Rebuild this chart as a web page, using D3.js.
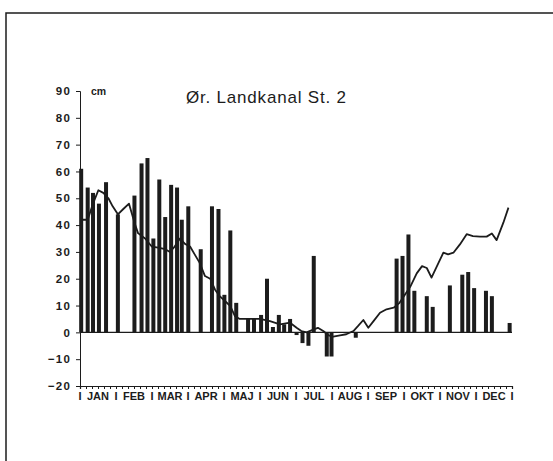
<!DOCTYPE html>
<html>
<head>
<meta charset="utf-8">
<script src="https://cdn.jsdelivr.net/npm/d3@7"></script>
<style>
  body{margin:0;background:#fff;}
  svg{display:block;font-family:"Liberation Sans",Arial,sans-serif;}
</style>
</head>
<body>
<svg id="chart" width="553" height="461"></svg>
<script>
// vandstand, Ør. Landkanal St. 2 (dag i året -> cm)
const months=["JAN","FEB","MAR","APR","MAJ","JUN","JUL","AUG","SEP","OKT","NOV","DEC"];
const yTicks=[-20,-10,0,10,20,30,40,50,60,70,80,90];

// maalinger (soejler)
const barDays=[1,6.5,11,16,22,32,46,52,57,62,67,72,77,82,86,91.5,102,111.5,117,122,127,132,
  142,147,153,158,163,168,172.5,177.5,183,188,193,197.5,208.5,212.5,233,
  267.5,272.5,277.5,282.5,293,298,312.5,323,328,333,343,348,363];
const barValues=[61,54,52,48,56,44,51,63,65,35,57,43,55,54,42,47,31,47,46,14,38,11,
  5,5,6.5,20,2,6.5,3,5,-1,-4,-5,28.5,-9,-9,-2,
  27.5,28.5,36.5,15.5,13.5,9.5,17.5,21.5,22.5,16.5,15.5,13.5,3.5];

// glidende middel (kurve)
const lineDays=[1,6.5,11,15.5,19.7,24,27.6,32,36.6,41.4,46,49,55,60.6,66,72,76,80,84.5,88.7,93,97,101,
  105.6,110,114,118,122.5,127,131,135,144,152,160.5,169,177.5,183,187,191.5,197,201,205.5,210,214,
  219.7,225,231,235,239.4,243.6,248,253.5,259,265,270,279,284.5,289,293,297,303,307,311,315.5,321,
  326.7,332,338,343.6,348,352,357.7,362];
const lineValues=[42,42,48,53,52,50,47,44,46,48,41,37,35,32,31.6,31,30,32,35,33,32,29,26,
  21,20,16,13.5,11.7,9.8,6,5,5,5,4.2,3,3.6,1.7,0.5,0,1,1.7,0.5,-1.1,-1.6,
  -1.1,-0.7,0.5,2.4,4.6,1.7,4.2,7.3,8.6,9.2,11,17,22,24.7,24,20.4,26,29.7,29.1,29.7,32.8,
  36.6,35.9,35.7,35.7,36.9,34.4,40.9,46.5];

const svg=d3.select("#chart");
const ink="#1c1c1c";

// ramme
svg.append("path")
  .attr("d","M6,461 L6,13 L553,13")
  .attr("fill","none").attr("stroke",ink).attr("stroke-width",1.5);

const x=d3.scaleLinear().domain([0,365]).range([80,512]);
const y=d3.scaleLinear().domain([-20,90]).range([386,91]);

// y-akse
const yAxis=svg.append("g").attr("transform",`translate(${x(0)},0)`)
  .call(d3.axisLeft(y).tickValues(yTicks).tickSize(4).tickPadding(5));
yAxis.select(".domain").attr("stroke",ink).attr("stroke-width",1);
yAxis.selectAll(".tick line").attr("stroke",ink);
yAxis.selectAll(".tick text")
  .attr("font-size",11.5).attr("fill",ink).attr("font-weight","bold")
  .attr("letter-spacing",1.2)
  .attr("font-family","'Liberation Sans',Arial,sans-serif");

svg.append("text").attr("x",91).attr("y",95)
  .attr("font-size",10.5).attr("font-weight","bold").attr("fill",ink).text("cm");

// titel
svg.append("text").attr("x",186).attr("y",103)
  .attr("font-size",17).attr("letter-spacing",0.8).attr("fill",ink).text("Ør. Landkanal St. 2");

// x-akse med smaa streger
const xTicks=d3.range(0,73).map(i=>i*365/72);
const xAxis=svg.append("g").attr("transform",`translate(0,${y(-20)})`)
  .call(d3.axisBottom(x).tickValues(xTicks).tickSize(3).tickFormat(""));
xAxis.select(".domain").attr("stroke",ink).attr("stroke-width",1.2);
xAxis.selectAll(".tick line").attr("stroke",ink);

// maanedsnavne
const monthScale=d3.scaleBand().domain(months).range([x(0),x(365)]);
const lab=svg.append("g").attr("font-size",11).attr("font-weight","bold").attr("fill",ink);
lab.selectAll("text.m").data(months).join("text")
  .attr("class","m")
  .attr("x",d=>monthScale(d)+monthScale.bandwidth()/2)
  .attr("y",400).attr("text-anchor","middle").text(d=>d);
lab.selectAll("text.sep").data(d3.range(13)).join("text")
  .attr("class","sep")
  .attr("x",i=>x(0)+i*monthScale.bandwidth())
  .attr("y",400).attr("text-anchor","middle").text("I");

// nul-linie
svg.append("line")
  .attr("x1",x(0)).attr("x2",x(365)).attr("y1",y(0)).attr("y2",y(0))
  .attr("stroke",ink).attr("stroke-width",1.2);

// soejler
const bars=barDays.map((d,i)=>({day:d,value:barValues[i]}));
svg.append("g").selectAll("rect").data(bars).join("rect")
  .attr("x",d=>x(d.day)-2)
  .attr("width",4)
  .attr("y",d=>y(Math.max(0,d.value)))
  .attr("height",d=>Math.abs(y(d.value)-y(0)))
  .attr("fill",ink);

// kurve
const pts=lineDays.map((d,i)=>[d,lineValues[i]]);
svg.append("path").datum(pts)
  .attr("fill","none").attr("stroke",ink).attr("stroke-width",1.8)
  .attr("stroke-linejoin","round")
  .attr("d",d3.line().x(d=>x(d[0])).y(d=>y(d[1])));
</script>
</body>
</html>
